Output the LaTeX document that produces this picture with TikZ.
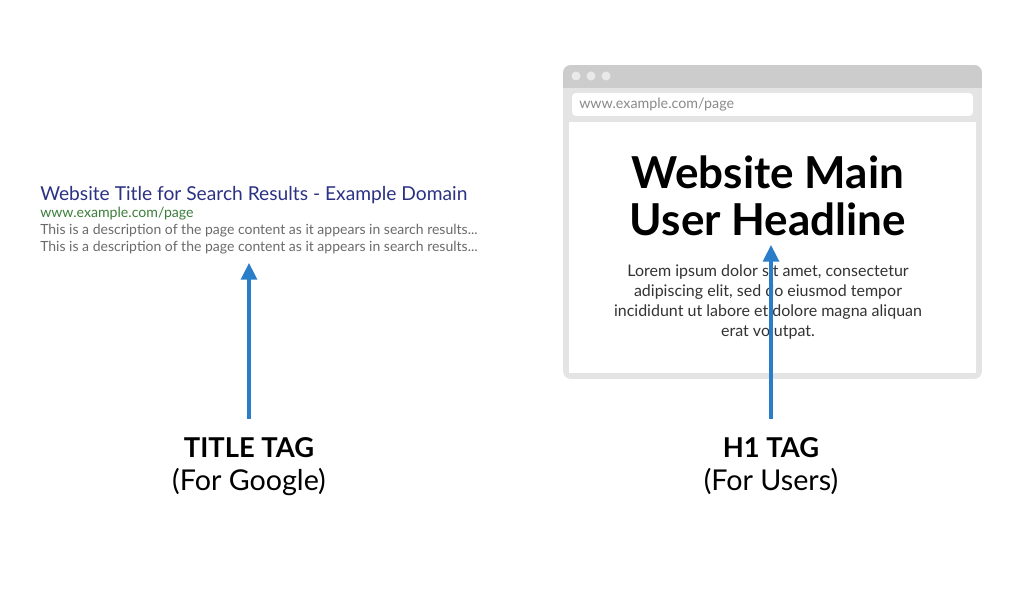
\documentclass[tikz,border=0pt]{standalone}
\usepackage{fontspec}
\setmainfont{Lato}
\usetikzlibrary{arrows.meta}

\definecolor{serptitle}{HTML}{2B3183}
\definecolor{serpurl}{HTML}{3A7D3A}
\definecolor{serptext}{HTML}{6A6A6A}
\definecolor{tagblue}{HTML}{2A7DC9}
\definecolor{framegray}{HTML}{E4E4E4}
\definecolor{bargray}{HTML}{CCCCCC}
\definecolor{dotgray}{HTML}{E9E9E9}
\definecolor{addrtext}{HTML}{8A8A8A}

\tikzset{
  tagarrow/.style={tagblue, line width=2.4pt, -{Triangle[length=12.5pt,width=12pt]}},
  taglabel/.style={anchor=base, inner sep=0pt, font=\fontsize{20.5}{23}\selectfont\bfseries},
  tagsub/.style={anchor=base, inner sep=0pt, font=\fontsize{21.5}{24}\selectfont},
}

\begin{document}
\begin{tikzpicture}[x=0.75pt,y=-0.75pt]
  \useasboundingbox (0,0) rectangle (1024,591);

  % search result
  \node [anchor=base west, inner sep=0pt, serptitle, font=\fontsize{14.4}{16}\selectfont] (serptitle) at (40,201) {Website Title for Search Results - Example Domain};
  \node [anchor=base west, inner sep=0pt, serpurl, font=\fontsize{10.6}{12}\selectfont] (serpurl) at (40,218) {www.example.com/page};
  \node [anchor=base west, inner sep=0pt, serptext, font=\fontsize{10.5}{12}\selectfont] (serpdesc1) at (40,235) {This is a description of the page content as it appears in search results...};
  \node [anchor=base west, inner sep=0pt, serptext, font=\fontsize{10.5}{12}\selectfont] (serpdesc2) at (40,252) {This is a description of the page content as it appears in search results...};

  % browser window
  \begin{scope}
    \clip [rounded corners=6] (563,65) rectangle (982,379);
    \fill [framegray] (563,65) rectangle (982,379);
    \fill [bargray] (563,65) rectangle (982,88);
  \end{scope}
  \foreach \x in {576,591,606}
    \fill [dotgray] (\x,76) circle (4.5);
  \fill [white, rounded corners=3] (572,93) rectangle (973,116);
  \fill [white] (569,122) rectangle (976,373);
  \node [anchor=base west, inner sep=0pt, addrtext, font=\fontsize{10.7}{12}\selectfont] (addr) at (579,109) {www.example.com/page};

  \node [align=center, inner sep=0pt, font=\fontsize{33}{35.5}\selectfont\bfseries] (headline) at (768,196) {Website Main\\User Headline};
  \node [align=center, inner sep=0pt, text=black!80, font=\fontsize{12}{15}\selectfont] (lorem) at (768,302) {Lorem ipsum dolor sit amet, consectetur\\adipiscing elit, sed do eiusmod tempor\\incididunt ut labore et dolore magna aliquan\\erat volutpat.};

  % tags
  \node [taglabel] (titletag) at (249,457) {TITLE TAG};
  \node [tagsub] (titlesub) at (249,490) {(For Google)};
  \node [taglabel] (h1tag) at (771,457) {H1 TAG};
  \node [tagsub] (h1sub) at (771,490) {(For Users)};

  \coordinate (titletip) at (249,263);
  \coordinate (h1tip) at (771,245);
  \draw [tagarrow] (titletag.north) ++(0,-18) -- (titletip);
  \draw [tagarrow] (h1tag.north) ++(0,-18) -- (h1tip);
\end{tikzpicture}
\end{document}
